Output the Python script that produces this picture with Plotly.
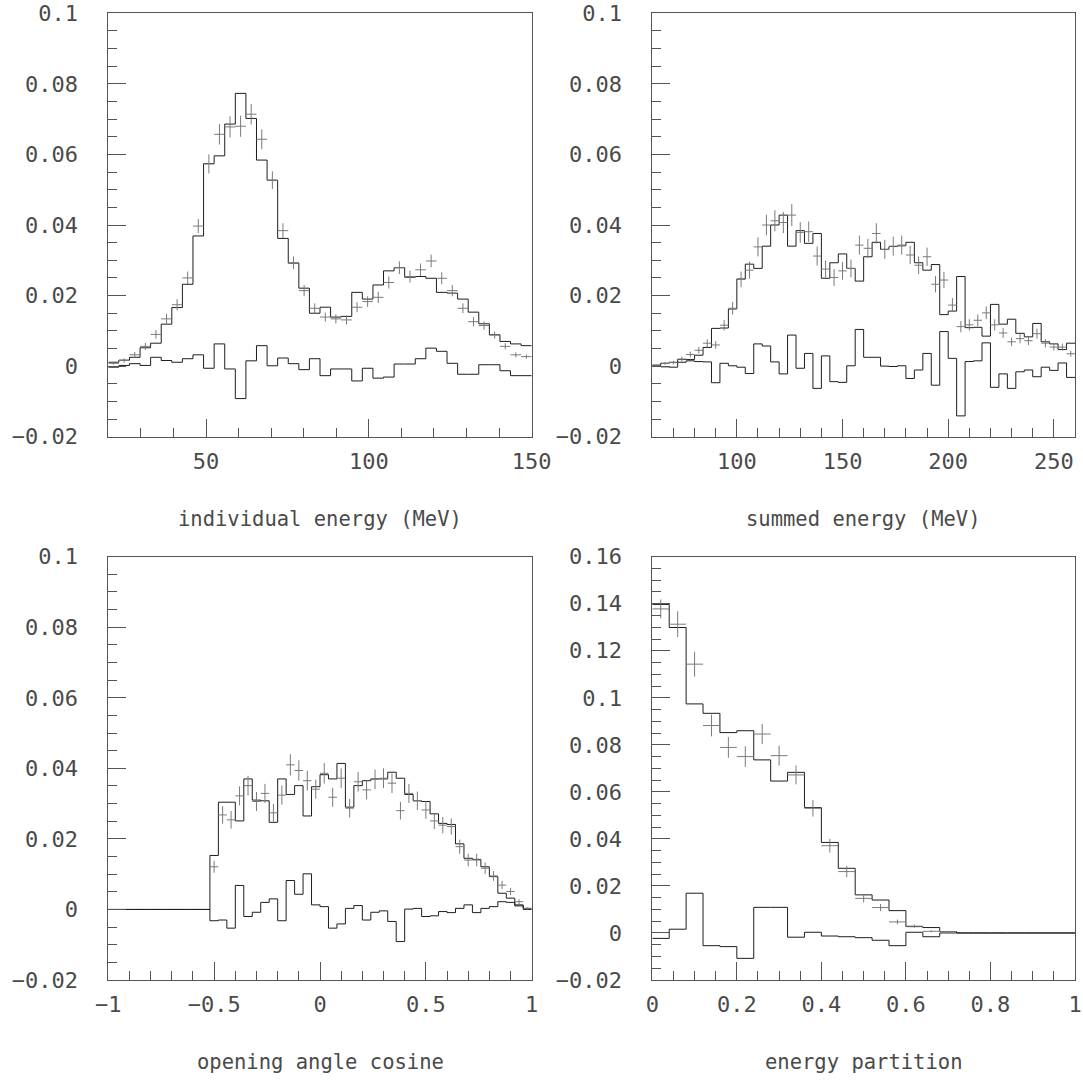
import numpy as np
import plotly.graph_objects as go

# ---------------- data ----------------
# individual energy (MeV): 40 bins, 20..150
ie_range = (20, 150)
ie_mc = [0.0011, 0.0017, 0.0025, 0.0052, 0.0065, 0.0119, 0.0166, 0.0232, 0.0369, 0.0574,
         0.0596, 0.0686, 0.0773, 0.0702, 0.0584, 0.0527, 0.0362, 0.0292, 0.0221, 0.0150,
         0.0167, 0.0139, 0.0141, 0.0209, 0.0190, 0.0230, 0.0270, 0.0279, 0.0252, 0.0254,
         0.0249, 0.0209, 0.0207, 0.0190, 0.0153, 0.0120, 0.0089, 0.0070, 0.0063, 0.0058]
ie_data = [0.0008, 0.0016, 0.0032, 0.0056, 0.0090, 0.0134, 0.0174, 0.0250, 0.0397, 0.0573,
           0.0657, 0.0678, 0.0680, 0.0714, 0.0643, 0.0527, 0.0384, 0.0293, 0.0214, 0.0164,
           0.0139, 0.0134, 0.0131, 0.0167, 0.0183, 0.0195, 0.0237, 0.0279, 0.0254, 0.0273,
           0.0298, 0.0249, 0.0214, 0.0164, 0.0126, 0.0115, 0.0088, 0.0056, 0.0032, 0.0027]
ie_err = [0.0004, 0.0006, 0.0008, 0.0010, 0.0012, 0.0014, 0.0016, 0.0018, 0.0020, 0.0027,
          0.0029, 0.0030, 0.0030, 0.0029, 0.0028, 0.0025, 0.0021, 0.0018, 0.0016, 0.0014,
          0.0013, 0.0013, 0.0013, 0.0014, 0.0015, 0.0016, 0.0017, 0.0018, 0.0017, 0.0018,
          0.0018, 0.0017, 0.0016, 0.0014, 0.0013, 0.0012, 0.0010, 0.0009, 0.0007, 0.0006]
ie_diff = [-0.0003, 0.0002, 0.0007, 0.0002, 0.0025, 0.0016, 0.0011, 0.0021, 0.0032, -0.0006,
           0.0063, -0.0008, -0.0092, 0.0015, 0.0058, 0.0001, 0.0023, 0.0007, -0.0010, 0.0021,
           -0.0027, -0.0008, -0.0008, -0.0042, -0.0006, -0.0034, -0.0031, 0.0006, 0.0006, 0.0021,
           0.0051, 0.0042, 0.0008, -0.0023, -0.0023, 0.0004, 0.0004, -0.0013, -0.0027, -0.0027]

# summed energy (MeV): 50 bins, 60..260
se_range = (60, 260)
se_mc = [0.0003, 0.0008, 0.0011, 0.0019, 0.0019, 0.0031, 0.0053, 0.0107, 0.0108, 0.0162,
         0.0247, 0.0289, 0.0277, 0.0340, 0.0400, 0.0428, 0.0340, 0.0384, 0.0348, 0.0376,
         0.0249, 0.0293, 0.0318, 0.0277, 0.0241, 0.0310, 0.0351, 0.0331, 0.0339, 0.0341,
         0.0351, 0.0293, 0.0272, 0.0288, 0.0146, 0.0156, 0.0254, 0.0109, 0.0110, 0.0085,
         0.0175, 0.0119, 0.0133, 0.0093, 0.0083, 0.0121, 0.0069, 0.0063, 0.0047, 0.0065]
se_data = [0.0001, 0.0008, 0.0010, 0.0020, 0.0033, 0.0045, 0.0065, 0.0060, 0.0116, 0.0164,
           0.0246, 0.0272, 0.0338, 0.0400, 0.0412, 0.0407, 0.0428, 0.0379, 0.0381, 0.0312,
           0.0275, 0.0251, 0.0270, 0.0277, 0.0343, 0.0334, 0.0376, 0.0331, 0.0340, 0.0343,
           0.0315, 0.0286, 0.0310, 0.0232, 0.0244, 0.0173, 0.0112, 0.0117, 0.0130, 0.0151,
           0.0117, 0.0094, 0.0069, 0.0078, 0.0072, 0.0092, 0.0065, 0.0054, 0.0054, 0.0035]
se_err = [0.0003, 0.0004, 0.0005, 0.0007, 0.0008, 0.0009, 0.0011, 0.0011, 0.0015, 0.0018,
          0.0022, 0.0024, 0.0027, 0.0029, 0.0030, 0.0030, 0.0031, 0.0029, 0.0029, 0.0027,
          0.0025, 0.0024, 0.0025, 0.0025, 0.0027, 0.0027, 0.0029, 0.0027, 0.0027, 0.0027,
          0.0026, 0.0025, 0.0026, 0.0023, 0.0023, 0.0020, 0.0016, 0.0016, 0.0017, 0.0018,
          0.0016, 0.0014, 0.0012, 0.0013, 0.0012, 0.0014, 0.0012, 0.0010, 0.0010, 0.0008]
se_diff = [0.0001, -0.0002, -0.0003, 0.0011, 0.0015, 0.0013, 0.0012, -0.0047, 0.0008, 0.0001,
           -0.0003, -0.0021, 0.0063, 0.0057, 0.0012, -0.0022, 0.0088, -0.0006, 0.0036, -0.0063,
           0.0029, -0.0044, -0.0046, 0.0001, 0.0104, 0.0025, 0.0025, 0.0000, -0.0001, 0.0001,
           -0.0035, -0.0011, 0.0036, -0.0054, 0.0098, 0.0022, -0.0141, 0.0013, 0.0015, 0.0066,
           -0.0060, -0.0022, -0.0063, -0.0016, -0.0011, -0.0030, -0.0003, -0.0012, 0.0009, -0.0032]

# opening angle cosine: 50 bins, -1..1
oa_range = (-1, 1)
oa_mc = [0, 0, 0, 0, 0, 0, 0, 0, 0, 0, 0, 0,
         0.0153, 0.0304, 0.0304, 0.0251, 0.0370, 0.0310, 0.0308, 0.0247, 0.0370, 0.0326,
         0.0351, 0.0265, 0.0348, 0.0382, 0.0370, 0.0414, 0.0290, 0.0351, 0.0365, 0.0370,
         0.0370, 0.0389, 0.0372, 0.0326, 0.0308, 0.0306, 0.0271, 0.0244, 0.0241, 0.0186,
         0.0145, 0.0142, 0.0121, 0.0093, 0.0046, 0.0032, 0.0013, 0.0003]
oa_data = [None] * 12 + [
           0.0121, 0.0268, 0.0254, 0.0322, 0.0351, 0.0306, 0.0329, 0.0274, 0.0324, 0.0410,
           0.0394, 0.0365, 0.0341, 0.0386, 0.0318, 0.0372, 0.0287, 0.0362, 0.0339, 0.0369,
           0.0372, 0.0358, 0.0280, 0.0329, 0.0308, 0.0282, 0.0251, 0.0239, 0.0235, 0.0178,
           0.0140, 0.0140, 0.0117, 0.0095, 0.0069, 0.0051, 0.0022, 0.0003]
oa_err = [None] * 12 + [
          0.0017, 0.0025, 0.0025, 0.0027, 0.0028, 0.0027, 0.0027, 0.0025, 0.0027, 0.0030,
          0.0029, 0.0028, 0.0027, 0.0029, 0.0027, 0.0028, 0.0026, 0.0028, 0.0027, 0.0028,
          0.0028, 0.0028, 0.0025, 0.0027, 0.0026, 0.0025, 0.0023, 0.0023, 0.0023, 0.0020,
          0.0018, 0.0018, 0.0016, 0.0014, 0.0012, 0.0010, 0.0007, 0.0003]
oa_diff = [0, 0, 0, 0, 0, 0, 0, 0, 0, 0, 0, 0,
           -0.0032, -0.0030, -0.0053, 0.0068, -0.0020, -0.0008, 0.0020, 0.0030, -0.0032, 0.0082,
           0.0043, 0.0101, 0.0013, 0.0008, -0.0053, -0.0041, 0.0003, 0.0011, -0.0030, -0.0008,
           -0.0004, -0.0034, -0.0091, 0.0001, 0.0003, -0.0020, -0.0018, -0.0006, -0.0009, 0.0003,
           0.0013, -0.0009, 0.0003, 0.0008, 0.0022, 0.0020, 0.0010, 0.0000]

# energy partition: 25 bins, 0..1
ep_range = (0, 1)
ep_mc = [0.1397, 0.1299, 0.0974, 0.0934, 0.0852, 0.0860, 0.0736, 0.0646, 0.0683, 0.0533,
         0.0385, 0.0275, 0.0162, 0.0140, 0.0095, 0.0027, 0.0023, 0.0006, 0, 0,
         0, 0, 0, 0, 0]
ep_data = [0.1378, 0.1313, 0.1143, 0.0882, 0.0789, 0.0750, 0.0846, 0.0754, 0.0672, 0.0530,
           0.0371, 0.0261, 0.0147, 0.0108, 0.0047, 0.0029, 0.0007, 0.0006, None, None,
           None, None, None, None, None]
ep_err = [0.0040, 0.0055, 0.0053, 0.0046, 0.0044, 0.0044, 0.0043, 0.0042, 0.0040, 0.0035,
          0.0029, 0.0024, 0.0017, 0.0015, 0.0010, 0.0007, 0.0004, 0.0003, None, None,
          None, None, None, None, None]
ep_diff = [-0.0023, 0.0016, 0.0169, -0.0054, -0.0058, -0.0108, 0.0109, 0.0109, -0.0018, 0.0003,
           -0.0013, -0.0016, -0.0020, -0.0031, -0.0054, 0.0003, -0.0016, 0, 0, 0,
           0, 0, 0, 0, 0]

titles = ["individual energy (MeV)", "summed energy (MeV)",
          "opening angle cosine", "energy partition"]

# ---------------- layout constants ----------------
W, H = 1083, 1082
FONT = "DejaVu Sans Mono"
TXT = "#4a4a4a"
LINE = "#1e1e1e"
FRAME = "#555555"
CROSS = "#7a7a7a"

def xdom(p0, p1):
    return [p0 / W, p1 / W]

def ydom(top, bottom):
    return [1 - bottom / H, 1 - top / H]

panels = [
    dict(rng=ie_range, mc=ie_mc, data=ie_data, err=ie_err, diff=ie_diff,
         xd=xdom(108.3, 531.7), yd=ydom(13.3, 436.7), yr=(-0.02, 0.1),
         xdt=50, xmin=10, title_y=519),
    dict(rng=se_range, mc=se_mc, data=se_data, err=se_err, diff=se_diff,
         xd=xdom(652.3, 1075.0), yd=ydom(13.3, 436.7), yr=(-0.02, 0.1),
         xdt=50, xmin=10, title_y=519),
    dict(rng=oa_range, mc=oa_mc, data=oa_data, err=oa_err, diff=oa_diff,
         xd=xdom(108.3, 531.7), yd=ydom(556.7, 980.0), yr=(-0.02, 0.1),
         xdt=0.5, xmin=0.1, title_y=1062),
    dict(rng=ep_range, mc=ep_mc, data=ep_data, err=ep_err, diff=ep_diff,
         xd=xdom(652.3, 1075.0), yd=ydom(556.7, 980.0), yr=(-0.02, 0.16),
         xdt=0.2, xmin=0.05, title_y=1062),
]

fig = go.Figure()
layout = dict(width=W, height=H, margin=dict(l=0, r=0, t=0, b=0, autoexpand=False),
              paper_bgcolor="white", plot_bgcolor="white", showlegend=False,
              font=dict(family=FONT, size=22, color=TXT))
annotations = []

for i, p in enumerate(panels):
    sfx = "" if i == 0 else str(i + 1)
    xa, ya = "x" + sfx, "y" + sfx
    lo, hi = p["rng"]
    n = len(p["mc"])
    edges = np.linspace(lo, hi, n + 1)
    centers = 0.5 * (edges[:-1] + edges[1:])
    half = (hi - lo) / n / 2

    for vals in (p["mc"], p["diff"]):
        fig.add_trace(go.Scatter(
            x=edges, y=list(vals) + [vals[-1]], mode="lines",
            line=dict(shape="hv", color=LINE, width=1),
            xaxis=xa, yaxis=ya, hoverinfo="skip"))

    fig.add_trace(go.Scatter(
        x=centers, y=p["data"], mode="markers",
        marker=dict(size=1, color="rgba(0,0,0,0)"),
        error_y=dict(type="data", array=p["err"], visible=True, width=0,
                     thickness=1, color=CROSS),
        error_x=dict(type="constant", value=half, visible=True, width=0,
                     thickness=1, color=CROSS),
        xaxis=xa, yaxis=ya, hoverinfo="skip"))

    y0, y1 = p["yr"]
    layout["xaxis" + sfx] = dict(
        domain=p["xd"], anchor=ya, range=[lo, hi], tick0=0, dtick=p["xdt"],
        ticks="inside", ticklen=18, tickwidth=1, tickcolor=FRAME,
        minor=dict(dtick=p["xmin"], tick0=0, ticks="inside", ticklen=9,
                   tickwidth=1, tickcolor=FRAME, showgrid=False),
        showline=True, linecolor=FRAME, linewidth=1, mirror=True,
        showgrid=False, zeroline=False, ticklabelstandoff=5, automargin=False,
        tickfont=dict(family=FONT, size=22, color=TXT))
    layout["yaxis" + sfx] = dict(
        domain=p["yd"], anchor=xa, range=[y0 - 1e-7, y1 + 1e-7], tick0=0, dtick=0.02,
        ticks="inside", ticklen=18, tickwidth=1, tickcolor=FRAME,
        minor=dict(dtick=0.005, tick0=0, ticks="inside", ticklen=9,
                   tickwidth=1, tickcolor=FRAME, showgrid=False),
        showline=True, linecolor=FRAME, linewidth=1, mirror=True,
        showgrid=False, zeroline=False, ticklabelstandoff=25, automargin=False,
        tickfont=dict(family=FONT, size=22, color=TXT))

    annotations.append(dict(
        text=titles[i], xref="paper", yref="paper",
        x=(p["xd"][0] + p["xd"][1]) / 2, y=1 - p["title_y"] / H,
        xanchor="center", yanchor="middle", showarrow=False,
        font=dict(family=FONT, size=20.5, color=TXT)))

layout["annotations"] = annotations
fig.update_layout(**layout)
fig.write_html("out.html", config={"displayModeBar": False},
               post_script="document.body.style.margin='0px';")
